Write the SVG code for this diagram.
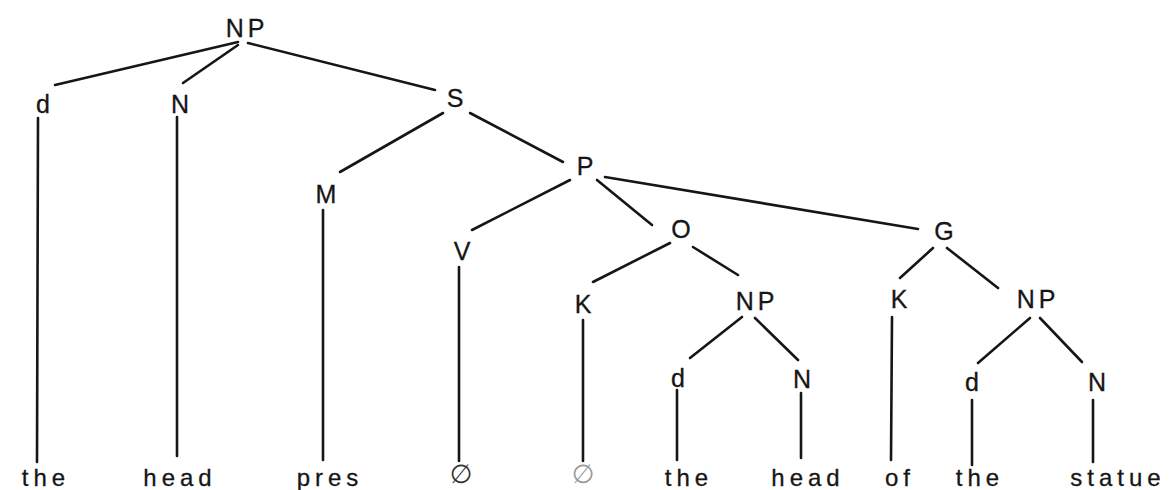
<svg xmlns="http://www.w3.org/2000/svg" width="1172" height="490" viewBox="0 0 1172 490">
  <style>
    .lbl { font-family: "Liberation Sans", Arial, sans-serif; font-size: 25px; fill: #161616; stroke: #161616; stroke-width: 0.3; text-anchor: middle; }
    .np { letter-spacing: 4px; }
    .word { font-family: "Liberation Sans", Arial, sans-serif; font-size: 24px; fill: #161616; stroke: #161616; stroke-width: 0.3; text-anchor: middle; letter-spacing: 5px; }
    .null { font-family: "DejaVu Sans", sans-serif; font-size: 26px; fill: #333; text-anchor: middle; }
    .faint { fill: #9a9a9a; }
    .edge { stroke: #161616; stroke-width: 2.6; stroke-linecap: round; fill: none; }
  </style>
  <rect width="1172" height="490" fill="#ffffff"/>

  <!-- branches of the tree -->
  <g id="connectors">
    <line class="edge" x1="238" y1="42" x2="55" y2="85"/>
    <line class="edge" x1="238" y1="45" x2="183" y2="83"/>
    <line class="edge" x1="248" y1="43" x2="435" y2="90"/>
    <line class="edge" x1="443" y1="113" x2="340" y2="172"/>
    <line class="edge" x1="470" y1="113" x2="563" y2="162"/>
    <line class="edge" x1="570" y1="180" x2="472" y2="230"/>
    <line class="edge" x1="597" y1="180" x2="652" y2="225"/>
    <line class="edge" x1="605" y1="177" x2="918" y2="229"/>
    <line class="edge" x1="670" y1="243" x2="593" y2="282"/>
    <line class="edge" x1="693" y1="247" x2="738" y2="275"/>
    <line class="edge" x1="742" y1="317" x2="690" y2="358"/>
    <line class="edge" x1="755" y1="318" x2="798" y2="360"/>
    <line class="edge" x1="933" y1="248" x2="900" y2="278"/>
    <line class="edge" x1="947" y1="248" x2="998" y2="288"/>
    <line class="edge" x1="1030" y1="318" x2="978" y2="363"/>
    <line class="edge" x1="1040" y1="318" x2="1082" y2="362"/>
    <!-- vertical drops to the terminal words -->
    <line class="edge" x1="38" y1="118" x2="37" y2="462"/>
    <line class="edge" x1="177" y1="117" x2="177" y2="456"/>
    <line class="edge" x1="323" y1="210" x2="323" y2="460"/>
    <line class="edge" x1="459" y1="267" x2="459" y2="461"/>
    <line class="edge" x1="583" y1="320" x2="583" y2="461"/>
    <line class="edge" x1="677" y1="390" x2="677" y2="460"/>
    <line class="edge" x1="801" y1="393" x2="801" y2="458"/>
    <line class="edge" x1="892" y1="317" x2="891" y2="460"/>
    <line class="edge" x1="972" y1="400" x2="972" y2="465"/>
    <line class="edge" x1="1093" y1="400" x2="1093" y2="462"/>
  </g>

  <!-- category labels -->
  <g id="np-root"><text class="lbl np" x="247" y="37">NP</text></g>
  <g id="d-1"><text class="lbl" x="43" y="113">d</text></g>
  <g id="n-1"><text class="lbl" x="180" y="113">N</text></g>
  <g id="s"><text class="lbl" x="455" y="107">S</text></g>
  <g id="m"><text class="lbl" x="326" y="203">M</text></g>
  <g id="p"><text class="lbl" x="585" y="175">P</text></g>
  <g id="v"><text class="lbl" x="462" y="260">V</text></g>
  <g id="o"><text class="lbl" x="681" y="238">O</text></g>
  <g id="g"><text class="lbl" x="944" y="240">G</text></g>
  <g id="k-1"><text class="lbl" x="583" y="313">K</text></g>
  <g id="np-2"><text class="lbl np" x="757" y="310">NP</text></g>
  <g id="k-2"><text class="lbl" x="899" y="308">K</text></g>
  <g id="np-3"><text class="lbl np" x="1038" y="308">NP</text></g>
  <g id="d-2"><text class="lbl" x="678" y="387">d</text></g>
  <g id="n-2"><text class="lbl" x="802" y="388">N</text></g>
  <g id="d-3"><text class="lbl" x="972" y="391">d</text></g>
  <g id="n-3"><text class="lbl" x="1097" y="391">N</text></g>

  <!-- terminal words -->
  <g id="w-the-1"><text class="word" x="46" y="486">the</text></g>
  <g id="w-head-1"><text class="word" x="180" y="486">head</text></g>
  <g id="w-pres"><text class="word" x="330" y="486">pres</text></g>
  <g id="w-null-1"><text class="null" x="461" y="483">∅</text></g>
  <g id="w-null-2"><text class="null faint" x="583" y="483">∅</text></g>
  <g id="w-the-2"><text class="word" x="689" y="486">the</text></g>
  <g id="w-head-2"><text class="word" x="808" y="486">head</text></g>
  <g id="w-of"><text class="word" x="900" y="486">of</text></g>
  <g id="w-the-3"><text class="word" x="980" y="486">the</text></g>
  <g id="w-statue"><text class="word" x="1118" y="486">statue</text></g>
</svg>
